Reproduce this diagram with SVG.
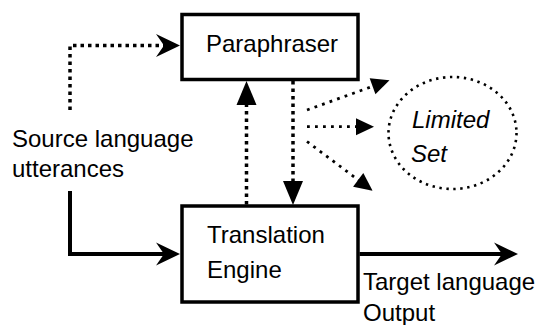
<svg xmlns="http://www.w3.org/2000/svg" width="539" height="325" viewBox="0 0 539 325">
<style>
text{font-family:"Liberation Sans",Arial,sans-serif;font-size:24px;fill:#000}
.box{fill:#fff;stroke:#000;stroke-width:3.5}
.solid{fill:none;stroke:#000;stroke-width:4}
.dot{fill:none;stroke:#000;stroke-width:3.5;stroke-dasharray:3.5 4}
.sdot{fill:none;stroke:#000;stroke-width:2.8;stroke-dasharray:2.8 5.2}
.edot{fill:none;stroke:#000;stroke-width:2.6;stroke-dasharray:2.4 4.6}
</style>
<defs>
<marker id="ah" markerUnits="userSpaceOnUse" orient="auto" refX="0" refY="0" markerWidth="60" markerHeight="60" viewBox="-30 -30 60 60" overflow="visible">
<path d="M16,0 L-8,-11.5 L0,0 L-8,11.5 Z" fill="#000"/>
</marker>
<marker id="tri" markerUnits="userSpaceOnUse" orient="auto" refX="0" refY="0" markerWidth="60" markerHeight="60" viewBox="-30 -30 60 60" overflow="visible">
<path d="M-1,-10 L23,0 L-1,10 Z" fill="#000"/>
</marker>
<marker id="tris" markerUnits="userSpaceOnUse" orient="auto" refX="0" refY="0" markerWidth="60" markerHeight="60" viewBox="-30 -30 60 60" overflow="visible">
<path d="M-1,-8.5 L17,0 L-1,8.5 Z" fill="#000"/>
</marker>
</defs>
<g id="connectors">
<path class="dot" d="M70,110 V45.5 H164" marker-end="url(#ah)"/>
<path class="dot" d="M246.5,204.5 V104" marker-end="url(#tri)"/>
<path class="dot" d="M293,81 V182" marker-end="url(#tri)"/>
<path class="solid" d="M70,191 V254 H164" marker-end="url(#ah)"/>
<path class="solid" d="M359.5,254 H502" marker-end="url(#ah)"/>
<path class="sdot" d="M307,110 L373.5,86" marker-end="url(#tris)"/>
<path class="sdot" d="M307,126.7 H357" marker-end="url(#tris)"/>
<path class="sdot" d="M307,141.5 L359,180.5" marker-end="url(#tris)"/>
</g>
<g id="paraphraser">
<rect class="box" x="182" y="14.5" width="176" height="65"/>
<text x="206" y="52">Paraphraser</text>
</g>
<g id="translation-engine">
<rect class="box" x="182" y="206" width="176" height="96"/>
<text x="207" y="243">Translation</text>
<text x="207" y="278">Engine</text>
</g>
<g id="limited-set">
<ellipse class="edot" cx="452.5" cy="133" rx="64" ry="56"/>
<text x="412" y="128" font-style="italic">Limited</text>
<text x="411" y="162" font-style="italic">Set</text>
</g>
<g id="source">
<text x="12" y="147">Source language</text>
<text x="12" y="177">utterances</text>
</g>
<g id="target">
<text x="363" y="290">Target language</text>
<text x="363" y="321">Output</text>
</g>
</svg>
